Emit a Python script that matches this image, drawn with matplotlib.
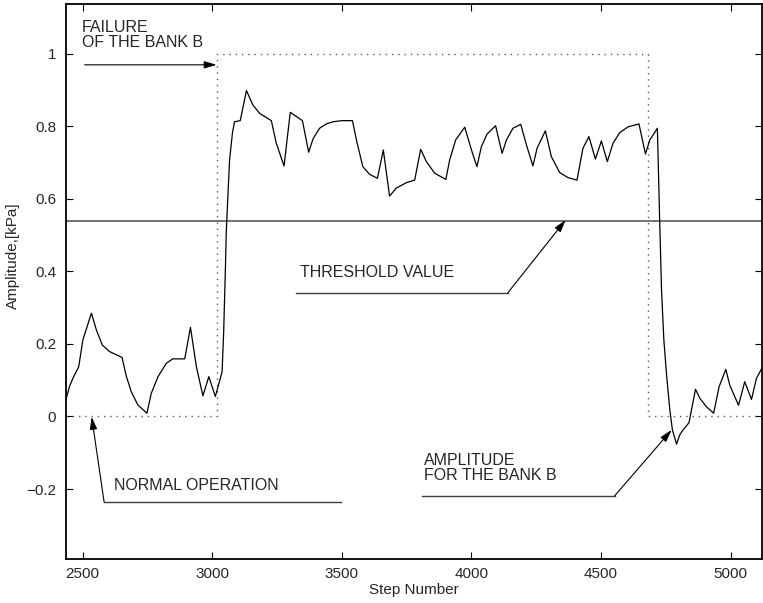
import matplotlib
matplotlib.use('Agg')
import matplotlib.pyplot as plt

# Amplitude signal of bank B
step = [2437, 2450, 2465, 2485, 2501, 2534, 2553, 2576, 2604, 2652,
        2669, 2688, 2713, 2748, 2765, 2791, 2823, 2848, 2894, 2916,
        2939, 2964, 2987, 3012, 3038, 3044, 3051, 3054, 3061, 3067,
        3078, 3086, 3108, 3132, 3157, 3183, 3228, 3247, 3277, 3301,
        3348, 3372, 3389, 3414, 3440, 3466, 3500, 3541, 3556, 3581, 3607, 3637,
        3660, 3684, 3710, 3749, 3781, 3804, 3826, 3858, 3901, 3916,
        3939, 3974, 4000, 4021, 4038, 4060, 4093, 4118, 4135, 4160,
        4190, 4212, 4237, 4253, 4285, 4308, 4340, 4372, 4407, 4430,
        4453, 4478, 4501, 4524, 4546, 4572, 4604, 4646, 4671, 4688,
        4717, 4726, 4733, 4742, 4752, 4765, 4775, 4791, 4803, 4816,
        4839, 4864, 4881, 4906, 4934, 4955, 4981, 4996, 5030, 5054,
        5080, 5099, 5122]
amplitude = [0.050, 0.084, 0.109, 0.137, 0.211, 0.285, 0.239, 0.197, 0.179, 0.163,
             0.110, 0.068, 0.032, 0.009, 0.064, 0.110, 0.147, 0.159, 0.159, 0.246,
             0.137, 0.057, 0.110, 0.055, 0.123, 0.230, 0.412, 0.506, 0.617, 0.708,
             0.782, 0.813, 0.816, 0.899, 0.859, 0.836, 0.816, 0.754, 0.691, 0.839,
             0.816, 0.729, 0.766, 0.795, 0.807, 0.813, 0.816, 0.816, 0.763, 0.689, 0.668, 0.657,
             0.735, 0.608, 0.630, 0.645, 0.652, 0.737, 0.703, 0.671, 0.654, 0.708,
             0.763, 0.798, 0.735, 0.689, 0.744, 0.779, 0.802, 0.726, 0.763, 0.795,
             0.806, 0.749, 0.691, 0.740, 0.788, 0.717, 0.673, 0.659, 0.652, 0.740,
             0.772, 0.710, 0.760, 0.703, 0.754, 0.783, 0.799, 0.807, 0.724, 0.763,
             0.795, 0.537, 0.349, 0.211, 0.119, 0.018, -0.037, -0.076, -0.051, -0.037,
             -0.017, 0.075, 0.050, 0.027, 0.009, 0.082, 0.130, 0.087, 0.031, 0.096,
             0.047, 0.105, 0.136]

# Reference (failure indicator) drawn as dotted step
ref_step = [2437, 3017, 3017, 4679, 4679, 5125]
ref_level = [0, 0, 1, 1, 0, 0]

threshold = 0.54

x_ticks = [2500, 3000, 3500, 4000, 4500, 5000]
y_ticks = [-0.2, 0, 0.2, 0.4, 0.6, 0.8, 1]
y_tick_labels = ['\u22120.2', '0', '0.2', '0.4', '0.6', '0.8', '1']


def draw_arrow(ax, start, end):
    """Draw a thin arrow with a filled head from start to end (data coords)."""
    ax.annotate('', xy=end, xytext=start,
                arrowprops=dict(arrowstyle='-|>,head_length=0.75,head_width=0.22',
                                mutation_scale=10, color='black', lw=0.8,
                                shrinkA=0, shrinkB=0))


def plot_bank_failure() -> None:
    plt.rcParams['font.family'] = ['Liberation Sans', 'DejaVu Sans']
    text_color = '0.15'
    note_size = 11.5

    fig = plt.figure(figsize=(7.63, 6.03), dpi=100)
    ax = fig.add_axes([0.0865, 0.073, 0.912, 0.9205])

    # Dotted reference, threshold and signal
    ax.plot(ref_step, ref_level, linestyle=(0, (1, 3.5)), color='0.35', lw=1.0)
    ax.axhline(threshold, color='0.3', lw=1.1)
    ax.plot(step, amplitude, color='black', lw=0.9)

    ax.set_xlim(2436, 5120)
    ax.set_ylim(-0.393, 1.138)
    ax.set_xticks(x_ticks)
    ax.set_yticks(y_ticks)
    ax.set_yticklabels(y_tick_labels)
    ax.tick_params(direction='in', top=True, right=True, length=5, width=0.8,
                   labelsize=11, colors='black', labelcolor=text_color)
    ax.tick_params(axis='x', pad=6)
    ax.tick_params(axis='y', pad=7)
    for spine in ax.spines.values():
        spine.set_linewidth(1.3)

    ax.set_xlabel('Step Number', fontsize=11, color=text_color, labelpad=1)
    ax.set_ylabel('Amplitude,[kPa]', fontsize=11, color=text_color)
    ax.yaxis.set_label_coords(-0.066, 0.546)

    # Annotations
    ax.text(2496, 1.052, 'FAILURE\nOF THE BANK B', fontsize=note_size, color=text_color,
            va='center', ha='left', linespacing=1.0)
    draw_arrow(ax, (2508, 0.970), (3017, 0.970))

    ax.text(3337, 0.396, 'THRESHOLD VALUE', fontsize=note_size, color=text_color,
            va='center', ha='left')
    ax.plot([3322, 4140], [0.341, 0.341], color='0.25', lw=1.0)
    draw_arrow(ax, (4140, 0.341), (4363, 0.542))

    ax.text(2620, -0.189, 'NORMAL OPERATION', fontsize=note_size, color=text_color,
            va='center', ha='left')
    ax.plot([2583, 3495], [-0.236, -0.236], color='0.25', lw=1.0)
    draw_arrow(ax, (2583, -0.236), (2535, -0.001))

    ax.text(3816, -0.141, 'AMPLITUDE\nFOR THE BANK B', fontsize=note_size, color=text_color,
            va='center', ha='left', linespacing=1.0)
    ax.plot([3808, 4552], [-0.219, -0.219], color='0.25', lw=1.0)
    draw_arrow(ax, (4552, -0.219), (4772, -0.037))

    fig.savefig('out.png', dpi=100)


if __name__ == '__main__':
    plot_bank_failure()
